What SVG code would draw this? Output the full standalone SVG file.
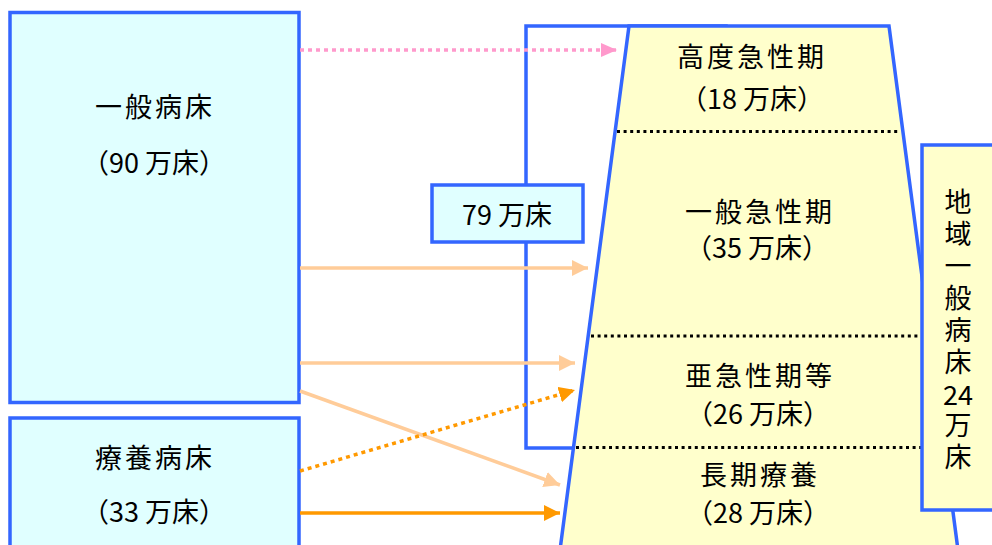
<svg xmlns="http://www.w3.org/2000/svg" width="992" height="545" viewBox="0 0 992 545">
<defs>
<style>
.box{stroke:#3366ff;stroke-width:3.5}
.cyan{fill:#e0ffff}
.yel{fill:#ffffcc}
.t{font-family:"Noto Sans CJK JP","Noto Sans CJK SC",sans-serif;font-size:27px;fill:#000;text-anchor:middle}
.ls{letter-spacing:3px}
.v{font-family:"Noto Sans CJK JP","Noto Sans CJK SC",sans-serif;font-size:27px;fill:#000;writing-mode:vertical-rl;text-orientation:upright;letter-spacing:5px}
.sep{stroke:#000;stroke-width:3;stroke-dasharray:3 3.6;fill:none}
.a{fill:none;stroke-width:3.5}
</style>
<marker id="mPink" markerUnits="userSpaceOnUse" markerWidth="16" markerHeight="14" refX="16" refY="7" orient="auto"><path d="M0,0 L16,7 L0,14 z" fill="#ff99cc"/></marker>
<marker id="mPeach" markerUnits="userSpaceOnUse" markerWidth="16" markerHeight="16" refX="16" refY="8" orient="auto"><path d="M0,0 L16,8 L0,16 z" fill="#ffcc99"/></marker>
<marker id="mOrange" markerUnits="userSpaceOnUse" markerWidth="16" markerHeight="16" refX="16" refY="8" orient="auto"><path d="M0,0 L16,8 L0,16 z" fill="#ff9900"/></marker>
</defs>
<rect width="992" height="545" fill="#ffffff"/>

<g id="general-beds">
<rect class="box cyan" x="10" y="12.5" width="289" height="390"/>
<text class="t ls" x="155" y="117">一般病床</text>
<text class="t" x="154" y="173">（90 万床）</text>
</g>

<g id="long-term-beds">
<rect class="box cyan" x="10" y="418" width="289" height="140"/>
<text class="t ls" x="155" y="468">療養病床</text>
<text class="t" x="154" y="522">（33 万床）</text>
</g>

<g id="acute-79">
<rect class="box" fill="none" x="526" y="26" width="200" height="422"/>
</g>

<g id="function-trapezoid">
<path class="box yel" d="M629,26 L889,26 L958,550 L560,550 Z"/>
<line class="sep" x1="617" y1="131.5" x2="900" y2="131.5"/>
<line class="sep" x1="591" y1="336" x2="922" y2="336"/>
<line class="sep" x1="576" y1="447.5" x2="922" y2="447.5"/>
<text class="t ls" x="752" y="67">高度急性期</text>
<text class="t" x="752" y="109">（18 万床）</text>
<text class="t ls" x="760" y="222">一般急性期</text>
<text class="t" x="757" y="258">（35 万床）</text>
<text class="t ls" x="760" y="386">亜急性期等</text>
<text class="t" x="758" y="424">（26 万床）</text>
<text class="t ls" x="760" y="485">長期療養</text>
<text class="t" x="758" y="523">（28 万床）</text>
</g>

<g id="label-79">
<rect class="box cyan" x="432" y="185" width="151" height="57"/>
<text class="t" x="507" y="225">79 万床</text>
</g>

<g id="regional-general">
<rect class="box yel" x="922" y="145" width="80" height="365"/>
<text class="v" x="958" y="188">地域一般病床</text>
<text class="t" x="958" y="405">24</text>
<text class="v" x="958" y="411">万床</text>
</g>

<g id="connectors">
<line class="a" x1="300" y1="50" x2="617" y2="50" stroke="#ff99cc" stroke-dasharray="4 4" marker-end="url(#mPink)"/>
<line class="a" x1="300" y1="268" x2="588" y2="268" stroke="#ffcc99" marker-end="url(#mPeach)"/>
<line class="a" x1="300" y1="363" x2="575" y2="363" stroke="#ffcc99" marker-end="url(#mPeach)"/>
<line class="a" x1="300" y1="391" x2="560" y2="485" stroke="#ffcc99" marker-end="url(#mPeach)"/>
<line class="a" x1="300" y1="471" x2="575" y2="390" stroke="#ff9900" stroke-width="4" stroke-dasharray="4 4" marker-end="url(#mOrange)"/>
<line class="a" x1="300" y1="513" x2="560" y2="513" stroke="#ff9900" marker-end="url(#mOrange)"/>
</g>
</svg>
